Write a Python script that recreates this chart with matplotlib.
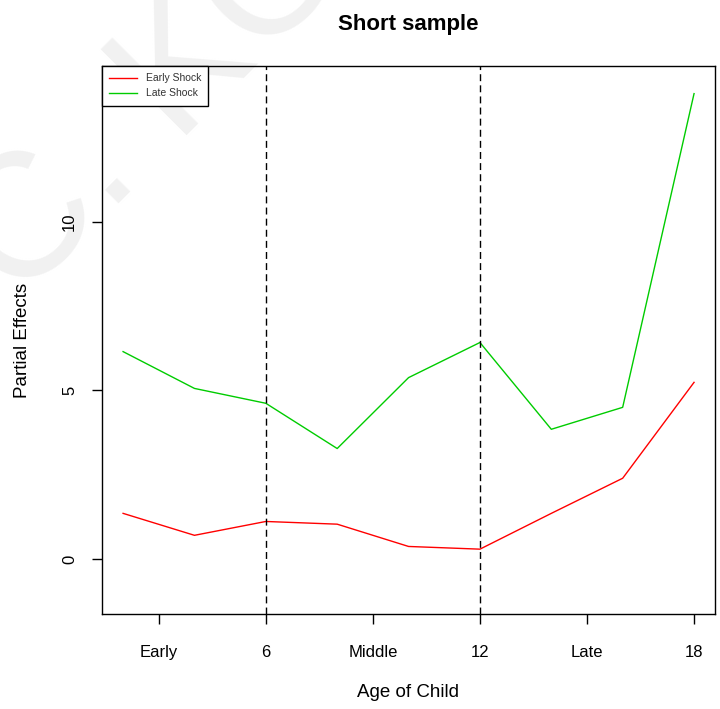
import matplotlib
matplotlib.use("Agg")
import matplotlib.pyplot as plt

# partial effects by age of child
edad = [2, 4, 6, 8, 10, 12, 14, 16, 18]
shock_temprano = [1.36, 0.71, 1.12, 1.04, 0.38, 0.30, 1.36, 2.40, 5.24]
shock_tardio = [6.15, 5.06, 4.62, 3.28, 5.38, 6.42, 3.85, 4.50, 13.79]
ticks_x = [3, 6, 9, 12, 15, 18]
etiquetas_x = ["Early", "6", "Middle", "12", "Late", "18"]
ticks_y = [0, 5, 10]
cortes = [6, 12]

plt.rcParams["font.family"] = ["Liberation Sans", "DejaVu Sans"]

fig = plt.figure(figsize=(7.2, 7.09), dpi=100)
ax = fig.add_axes([0.1417, 0.134, 0.851, 0.773])
ax.patch.set_alpha(0)

# marca de agua tenue, detrás de todo
fig.text(0.025, 0.571, "C. KO", rotation=45, rotation_mode="anchor",
         ha="left", va="baseline", fontsize=127, color="#f1f1f1", zorder=-5)

ax.plot(edad, shock_temprano, color="#ff0000", lw=1.0, label="Early Shock")
ax.plot(edad, shock_tardio, color="#00cc00", lw=1.0, label="Late Shock")
for c in cortes:
    ax.axvline(c, color="black", lw=1.0, dashes=(5, 3))

ax.set_xlim(1.41, 18.58)
ax.set_ylim(-1.62, 14.61)
ax.set_xticks(ticks_x)
ax.set_xticklabels(etiquetas_x)
ax.set_yticks(ticks_y)
ax.tick_params(axis="both", direction="out", length=7, width=1,
               labelsize=12, color="black")
ax.tick_params(axis="x", pad=15)
ax.tick_params(axis="y", pad=11)
for t in ax.get_yticklabels():
    t.set_rotation(90)
    t.set_va("center")
for s in ax.spines.values():
    s.set_linewidth(1.0)
    s.set_color("black")

ax.set_title("Short sample", fontsize=16, fontweight="bold", pad=26)
ax.set_xlabel("Age of Child", fontsize=13.5)
ax.set_ylabel("Partial Effects", fontsize=13.5)
ax.xaxis.set_label_coords(0.5, -0.144)
ax.xaxis.label.set_va("center")
ax.yaxis.set_label_coords(-0.1305, 0.5)
ax.yaxis.label.set_va("center")

leg = ax.legend(loc="upper left", bbox_to_anchor=(0, 1), borderaxespad=0,
                fancybox=False, edgecolor="black", fontsize=7.5,
                handlelength=2.7, handletextpad=0.8, borderpad=0.7,
                labelspacing=0.5)
leg.get_frame().set_linewidth(1.0)
leg.get_frame().set_alpha(None)
for t in leg.get_texts():
    t.set_color("#333333")

fig.savefig("out.png", dpi=100)
